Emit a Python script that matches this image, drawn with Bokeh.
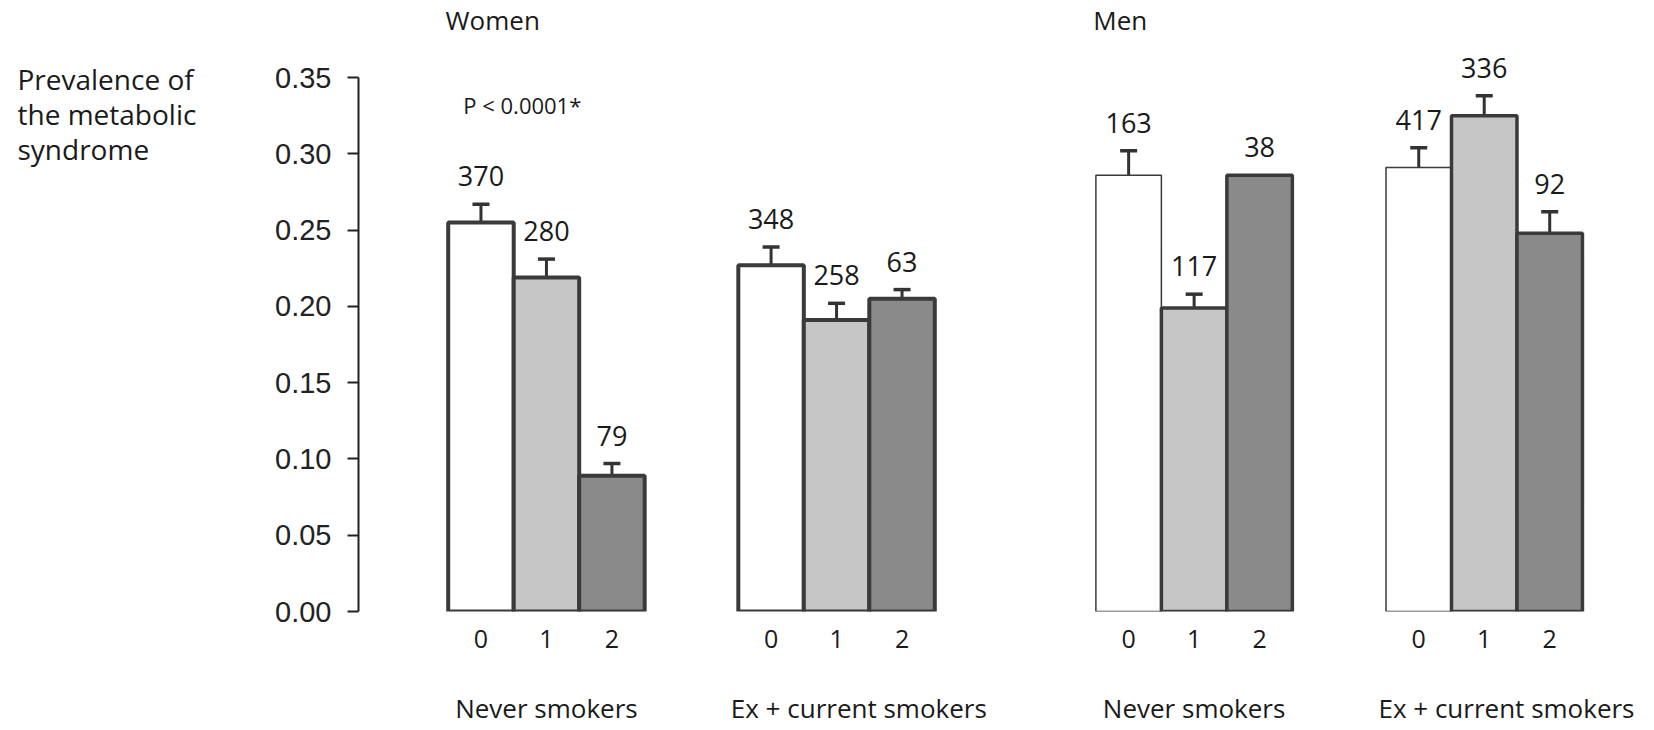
from bokeh.plotting import figure
from bokeh.layouts import row
from bokeh.models import (ColumnDataSource, Whisker, TeeHead, Label, LabelSet,
                          FixedTicker, LinearAxis, NumeralTickFormatter, Range1d)
from bokeh.embed import file_html
from bokeh.resources import INLINE
from bokeh.core.properties import value

# ---------------- data ----------------
sexes = ["Women", "Men"]
smoking_groups = ["Never smokers", "Ex + current smokers"]
levels = ["0", "1", "2"]

women_never = [0.255, 0.219, 0.089]
women_never_err = [0.267, 0.231, 0.097]
women_never_n = [370, 280, 79]

women_ex = [0.227, 0.191, 0.205]
women_ex_err = [0.239, 0.202, 0.211]
women_ex_n = [348, 258, 63]

men_never = [0.286, 0.199, 0.286]
men_never_err = [0.302, 0.208, None]
men_never_n = [163, 117, 38]

men_ex = [0.291, 0.325, 0.248]
men_ex_err = [0.304, 0.338, 0.262]
men_ex_n = [417, 336, 92]

y_ticks = [0.00, 0.05, 0.10, 0.15, 0.20, 0.25, 0.30, 0.35]
p_value_text = "P < 0.0001*"
y_title_lines = ["Prevalence of", "the metabolic", "syndrome"]

# ---------------- layout constants ----------------
FIRST_CENTER = 2.87
PAIR_GAP = 4.43
SEX_GAP = 5.46
X_END = 19.79
Y_END = 0.4005
TEXT_FONT = "Open Sans"
TEXT_COLOR = "#1a1a1a"
FILLS = ["#ffffff", "#c6c6c6", "#8a8a8a"]
OUTLINE = "#3a3a3a"
LEFT_W = 230
TOTAL_W = 1654
TOTAL_H = 730
BOTTOM = 119
FRAME_H = TOTAL_H - BOTTOM

group_centers = [FIRST_CENTER,
                 FIRST_CENTER + PAIR_GAP,
                 FIRST_CENTER + PAIR_GAP + SEX_GAP,
                 FIRST_CENTER + 2 * PAIR_GAP + SEX_GAP]
series = [
    ("Women", women_never, women_never_err, women_never_n),
    ("Women", women_ex, women_ex_err, women_ex_n),
    ("Men", men_never, men_never_err, men_never_n),
    ("Men", men_ex, men_ex_err, men_ex_n),
]

xs, tops, fills, lws, errs_x, errs_lo, errs_hi, lab_x, lab_y, lab_t = ([] for _ in range(10))
for gc, (sex, vals, errs, ns) in zip(group_centers, series):
    for k in range(3):
        x = gc + (k - 1)
        xs.append(x)
        tops.append(vals[k])
        fills.append(FILLS[k])
        if sex == "Women":
            lws.append(4)
        else:
            lws.append(1.5 if k == 0 else 3.5)
        if errs[k] is not None:
            errs_x.append(x); errs_lo.append(vals[k]); errs_hi.append(errs[k])
            lab_y.append(errs[k])
        else:
            lab_y.append(vals[k])
        lab_x.append(x)
        lab_t.append(str(ns[k]))

bars = ColumnDataSource(dict(x=xs, top=tops, fill=fills, lw=lws))
errsrc = ColumnDataSource(dict(base=errs_x, lower=errs_lo, upper=errs_hi))
labsrc = ColumnDataSource(dict(x=lab_x, y=lab_y, t=lab_t))

# ---------------- left panel: y-axis title ----------------
left = figure(width=LEFT_W, height=TOTAL_H, x_range=Range1d(0, LEFT_W),
              y_range=Range1d(FRAME_H, 0), output_backend="svg",
              toolbar_location=None, x_axis_type=None, y_axis_type=None,
              min_border_left=0, min_border_right=0, min_border_top=0,
              min_border_bottom=BOTTOM)
left.outline_line_color = None
left.grid.visible = False
left.text(x=[17, 17, 17], y=[78, 113, 148], text=y_title_lines,
          text_align="left", text_baseline="middle",
          text_font=value(TEXT_FONT), text_font_size="28px", text_color=TEXT_COLOR)

# ---------------- main panel ----------------
p = figure(width=TOTAL_W - LEFT_W, height=TOTAL_H,
           x_range=(0, X_END), y_range=(0, Y_END),
           output_backend="svg", toolbar_location=None,
           x_axis_type=None, y_axis_type=None,
           min_border_left=358 - LEFT_W, min_border_right=0, min_border_top=0,
           min_border_bottom=BOTTOM)
p.outline_line_color = None

p.vbar(x="x", top="top", bottom=0, width=1.0, source=bars,
       fill_color="fill", line_color=OUTLINE, line_width="lw")

wh = Whisker(base="base", lower="lower", upper="upper", source=errsrc,
             dimension="height", line_color="#333333", line_width=3,
             upper_head=TeeHead(size=17, line_color="#333333", line_width=3.5),
             lower_head=None)
p.add_layout(wh)

p.add_layout(LabelSet(x="x", y="y", text="t", source=labsrc, y_offset=18,
                      text_align="center", text_baseline="alphabetic",
                      text_font=value(TEXT_FONT), text_font_size="27px",
                      text_color=TEXT_COLOR))

# y axis
yaxis = LinearAxis(ticker=FixedTicker(ticks=y_ticks),
                   formatter=NumeralTickFormatter(format="0.00"),
                   bounds=(0, 0.35))
yaxis.axis_line_width = 2
yaxis.axis_line_color = "#222222"
yaxis.major_tick_line_width = 2
yaxis.major_tick_line_color = "#222222"
yaxis.major_tick_out = 11
yaxis.major_tick_in = 0
yaxis.minor_tick_line_color = None
yaxis.major_label_standoff = 16
yaxis.major_label_text_font = "Liberation Sans"
yaxis.major_label_text_font_size = "29px"
yaxis.major_label_text_color = "#222222"
p.add_layout(yaxis, "left")

# x axis: 0 1 2 under each bar
xaxis = LinearAxis(ticker=FixedTicker(ticks=xs),
                   major_label_overrides={x: levels[i % 3] for i, x in enumerate(xs)})
xaxis.axis_line_color = None
xaxis.major_tick_line_color = None
xaxis.major_tick_out = 0
xaxis.major_tick_in = 0
xaxis.minor_tick_line_color = None
xaxis.major_label_standoff = 18
xaxis.major_label_text_font = TEXT_FONT
xaxis.major_label_text_font_size = "25px"
xaxis.major_label_text_color = TEXT_COLOR
p.add_layout(xaxis, "below")

# second x axis: smoking-group names under each trio
group_label_pos = [gc + (0.0 if i % 2 == 0 else 0.34) for i, gc in enumerate(group_centers)]
gaxis = LinearAxis(ticker=FixedTicker(ticks=group_label_pos),
                   major_label_overrides={x: smoking_groups[i % 2]
                                          for i, x in enumerate(group_label_pos)})
gaxis.axis_line_color = None
gaxis.major_tick_line_color = None
gaxis.major_tick_out = 0
gaxis.major_tick_in = 0
gaxis.minor_tick_line_color = None
gaxis.major_label_standoff = 39
gaxis.major_label_text_font = TEXT_FONT
gaxis.major_label_text_font_size = "26px"
gaxis.major_label_text_color = TEXT_COLOR
p.add_layout(gaxis, "below")

# sex titles
for gi, sex in ((0, sexes[0]), (2, sexes[1])):
    p.add_layout(Label(x=group_centers[gi] - 1.54, y=0.3874, text=sex,
                       text_align="left", text_baseline="middle",
                       text_font=TEXT_FONT, text_font_size="26px", text_color=TEXT_COLOR))

# p-value
p.add_layout(Label(x=group_centers[0] - 1.27, y=0.3320, text=p_value_text,
                   text_align="left", text_baseline="middle",
                   text_font=TEXT_FONT, text_font_size="22px", text_color=TEXT_COLOR))

layout = row(left, p, spacing=0)
open("out.html", "w").write(file_html(layout, INLINE))
